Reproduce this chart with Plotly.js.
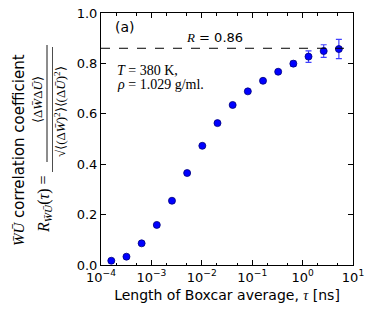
<!DOCTYPE html>
<html>
<head>
<meta charset="utf-8">
<script src="https://cdn.plot.ly/plotly-3.0.1.min.js"></script>
<style>html,body{margin:0;padding:0;background:#fff;}#chart{width:373px;height:312px;}</style>
</head>
<body>
<div id="chart"></div>
<script>
// Boxcar lengths tau [ns]
const tau = [1.6e-4, 3.2e-4, 6.4e-4, 1.28e-3, 2.56e-3, 5.12e-3, 0.01024, 0.02048, 0.04096, 0.08192, 0.16384, 0.32768, 0.65536, 1.31072, 2.62144, 5.24288];
// Correlation coefficient values
const corr = [0.017, 0.033, 0.086, 0.159, 0.255, 0.365, 0.473, 0.563, 0.635, 0.689, 0.731, 0.767, 0.799, 0.827, 0.849, 0.857];
// Error bars
const corrErr = [0.002, 0.002, 0.002, 0.002, 0.002, 0.002, 0.002, 0.003, 0.003, 0.004, 0.005, 0.006, 0.01, 0.023, 0.025, 0.038];
const Rlimit = 0.86;
const xTickVals = [1e-4, 1e-3, 1e-2, 1e-1, 1, 10];
const xTickText = ['10<sup>−4</sup>', '10<sup>−3</sup>', '10<sup>−2</sup>', '10<sup>−1</sup>', '10<sup>0</sup>', '10<sup>1</sup>'];
const yTickVals = [0, 0.2, 0.4, 0.6, 0.8, 1.0];
const yTickText = ['0.0', '0.2', '0.4', '0.6', '0.8', '1.0'];

const L = 101, T = 13, W = 252, H = 252;
const px = v => (v - L) / W;
const py = v => (T + H - v) / H;
const serif = 'Liberation Serif';
const sans = 'DejaVu Sans';

const trace = {
  x: tau, y: corr, type: 'scatter', mode: 'markers',
  marker: {color: '#0000ff', size: 7, line: {color: '#00007a', width: 0.8}},
  error_y: {type: 'data', array: corrErr, visible: true, color: '#4040ff', thickness: 1.2, width: 3},
  showlegend: false, hoverinfo: 'none'
};

const layout = {
  width: 373, height: 312,
  margin: {l: L, r: 373 - L - W, t: T, b: 312 - T - H},
  paper_bgcolor: '#fff', plot_bgcolor: '#fff',
  font: {family: sans, size: 13, color: '#000'},
  showlegend: false,
  xaxis: {
    type: 'log', range: [-4, 1], tickvals: xTickVals, ticktext: xTickText,
    ticks: 'inside', ticklen: 5, tickwidth: 1, tickcolor: '#000',
    minor: {ticks: 'inside', ticklen: 2.5, tickcolor: '#000', showgrid: false},
    showline: true, linecolor: '#000', linewidth: 1, mirror: 'allticks',
    showgrid: false, zeroline: false,
    tickfont: {family: sans, size: 13},
    title: {text: 'Length of Boxcar average, <i style="font-family:Liberation Serif">τ</i> [ns]', font: {family: sans, size: 14}, standoff: 6}
  },
  yaxis: {
    range: [0, 1], tickvals: yTickVals, ticktext: yTickText,
    ticks: 'inside', ticklen: 5, tickwidth: 1, tickcolor: '#000',
    showline: true, linecolor: '#000', linewidth: 1, mirror: 'allticks',
    showgrid: false, zeroline: false,
    tickfont: {family: sans, size: 13}
  },
  shapes: [
    {type: 'line', xref: 'paper', yref: 'y', x0: 0, x1: 1, y0: Rlimit, y1: Rlimit, line: {color: '#000', width: 1, dash: 'dash'}},
    // fraction bar of the y-axis formula
    {type: 'line', xref: 'paper', yref: 'paper', x0: px(47), x1: px(47), y0: py(45), y1: py(162), line: {color: '#000', width: 0.9}},
    // radical vinculum
    {type: 'line', xref: 'paper', yref: 'paper', x0: px(52.5), x1: px(52.5), y0: py(47), y1: py(172), line: {color: '#000', width: 0.7}}
  ],
  annotations: [
    {xref: 'paper', yref: 'paper', x: px(113), y: py(27), xanchor: 'left', yanchor: 'middle', showarrow: false, text: '(a)', font: {family: sans, size: 14}},
    {xref: 'paper', yref: 'paper', x: px(214), y: py(37), xanchor: 'center', yanchor: 'middle', showarrow: false, text: '<i style="font-family:Liberation Serif">R</i> = 0.86', font: {family: sans, size: 13}},
    {xref: 'paper', yref: 'paper', x: px(115), y: py(70), xanchor: 'left', yanchor: 'middle', showarrow: false, text: '<i>T</i> = 380 K,', font: {family: serif, size: 14}},
    {xref: 'paper', yref: 'paper', x: px(115), y: py(84), xanchor: 'left', yanchor: 'middle', showarrow: false, text: '<i>ρ</i> = 1.029 g/ml.', font: {family: serif, size: 14}},
    // y-axis title, line 1
    {xref: 'paper', yref: 'paper', x: px(19), y: py(150), xanchor: 'center', yanchor: 'middle', textangle: -90, showarrow: false,
     text: '<i style="font-family:Liberation Serif">W̄Ū</i> correlation coefficient', font: {family: sans, size: 15}},
    // y-axis title, line 2: left-hand side
    {xref: 'paper', yref: 'paper', x: px(44), y: py(204), xanchor: 'center', yanchor: 'middle', textangle: -90, showarrow: false,
     text: '<i>R</i><sub><i>W̄Ū</i></sub>(<i>τ</i>) =', font: {family: serif, size: 16}},
    // numerator
    {xref: 'paper', yref: 'paper', x: px(37), y: py(100), xanchor: 'center', yanchor: 'middle', textangle: -90, showarrow: false,
     text: '⟨Δ<i>W̄</i>Δ<i>Ū</i>⟩', font: {family: serif, size: 13}},
    // denominator
    {xref: 'paper', yref: 'paper', x: px(60), y: py(112), xanchor: 'center', yanchor: 'middle', textangle: -90, showarrow: false,
     text: '√⟨(Δ<i>W̄</i>)<sup>2</sup>⟩⟨(Δ<i>Ū</i>)<sup>2</sup>⟩', font: {family: serif, size: 13}}
  ]
};

Plotly.newPlot('chart', [trace], layout, {staticPlot: true, displayModeBar: false});
</script>
</body>
</html>
